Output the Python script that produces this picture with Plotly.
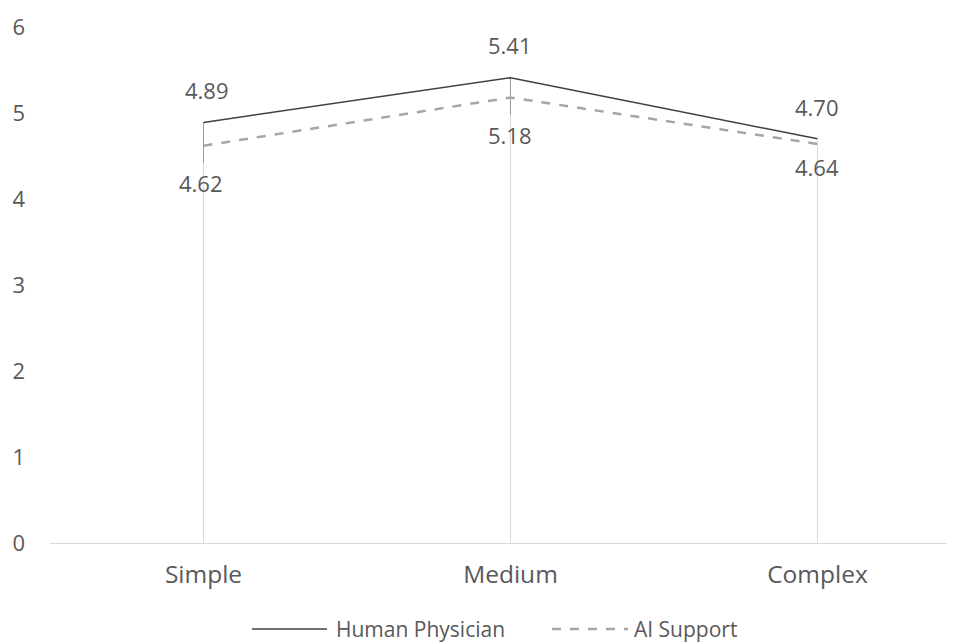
import plotly.graph_objects as go

categories = ["Simple", "Medium", "Complex"]
human = [4.89, 5.41, 4.70]
ai = [4.62, 5.18, 4.64]
y_ticks = [0, 1, 2, 3, 4, 5, 6]
series_names = ["Human Physician", "AI Support"]

font_family = "Open Sans, Noto Sans, sans-serif"
txt_color = "#595959"
human_color = "#404040"
ai_color = "#a6a6a6"

# The page body has an 8px margin; the figure is sized to fit the window.
OFF = 8
W, H = 955 - OFF, 643 - OFF
# plot area in screen pixels: left 50, top 27, right 955, bottom 543
SL, ST, SR, SB = 50, 27, 955, 543
L, T = SL - OFF, ST - OFF
R = W + OFF - SR
B = H + OFF - SB
PW, PH = SR - SL, SB - ST

fig = go.Figure()

# drop lines from each category down to 0
for i, c in enumerate(categories):
    top = max(human[i], ai[i])
    fig.add_trace(go.Scatter(x=[c, c], y=[0, top], mode="lines",
                             line=dict(color="#d9d9d9", width=1),
                             showlegend=False, hoverinfo="skip"))
    if human[i] - ai[i] > 0.1:
        fig.add_trace(go.Scatter(x=[c, c], y=[ai[i] - 0.2, human[i]], mode="lines",
                                 line=dict(color="#9a9a9a", width=1),
                                 showlegend=False, hoverinfo="skip"))

fig.add_trace(go.Scatter(
    x=categories, y=human, name=series_names[0], mode="lines",
    line=dict(color=human_color, width=1.5), showlegend=False,
))
fig.add_trace(go.Scatter(
    x=categories, y=ai, name=series_names[1], mode="lines",
    line=dict(color=ai_color, width=2.5, dash="dash"), showlegend=False,
))

# data labels
human_shift = [32, 33, 32]
ai_shift = [-37, -37, -23]
for i, c in enumerate(categories):
    fig.add_annotation(x=c, y=human[i], text=f"{human[i]:.2f}", showarrow=False,
                       yshift=human_shift[i], xshift=4 if i == 0 else 0,
                       font=dict(size=22, color=txt_color, family=font_family))
    fig.add_annotation(x=c, y=ai[i], text=f"{ai[i]:.2f}", showarrow=False,
                       yshift=ai_shift[i], xshift=-2 if i == 0 else 0,
                       font=dict(size=22, color=txt_color, family=font_family))

# manual legend (paper coordinates computed from screen pixels)
def px_x(p):
    return (p - SL) / PW

def px_y(p):
    return (SB - p) / PH

leg_y = 629
legend_items = [
    (252, 327, 334, human_color, 1.5, "solid", series_names[0]),
    (552, 628, 632, ai_color, 2.5, "dash", series_names[1]),
]
for x0, x1, xt, col, w, dash, name in legend_items:
    fig.add_shape(type="line", xref="paper", yref="paper",
                  x0=px_x(x0), x1=px_x(x1), y0=px_y(leg_y), y1=px_y(leg_y),
                  line=dict(color=col, width=w, dash=dash))
    fig.add_annotation(xref="paper", yref="paper", x=px_x(xt), y=px_y(leg_y),
                       xanchor="left", yanchor="middle", text=name, showarrow=False,
                       font=dict(size=21, color=txt_color, family=font_family))

fig.update_layout(
    width=W, height=H,
    margin=dict(l=L, r=R, t=T, b=B, pad=0),
    paper_bgcolor="white", plot_bgcolor="white",
    font=dict(family=font_family, size=15, color=txt_color),
    showlegend=False,
)
fig.update_xaxes(type="category", range=[-0.5, 2.448], showgrid=False,
                 showline=True, linecolor="#d9d9d9", linewidth=1, ticks="",
                 tickfont=dict(size=24.5, color=txt_color), zeroline=False,
                 automargin=False, ticklabelstandoff=10)
fig.update_yaxes(range=[0, 6], tickvals=y_ticks, showgrid=False, showline=False,
                 zeroline=False, ticks="", ticklabelstandoff=24, automargin=False,
                 tickfont=dict(size=22, color=txt_color))

fig.write_html("out.html")
